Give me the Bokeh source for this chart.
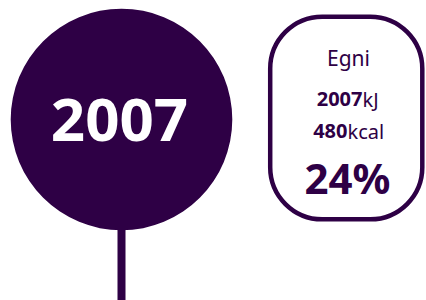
from bokeh.plotting import figure
from bokeh.models import Range1d, BoxAnnotation
from bokeh.core.properties import value
from bokeh.embed import file_html
from bokeh.resources import INLINE

# Data
year_label = ["2007"]
energy_label = ["Egni"]
kj_value = [2007]
kj_unit = ["kJ"]
kcal_value = [480]
kcal_unit = ["kcal"]
percent_value = [24]

PURPLE = "#2E0045"
FONT = "Noto Sans"
K = 0.37  # baseline compensation


def base(y, size):
    return y - K * size


p = figure(width=426, height=300, output_backend="svg", toolbar_location=None,
           x_range=Range1d(0, 426), y_range=Range1d(300, 0), min_border=0)
p.axis.visible = False
p.grid.visible = False
p.outline_line_color = None
p.background_fill_color = "white"

# stem
p.segment(x0=[121], y0=[200], x1=[121], y1=[300], line_color=PURPLE, line_width=8)
# circle
p.circle(x=[121], y=[119], radius=110.8, fill_color=PURPLE, line_color=None)

p.text(x=[119], y=[base(142, 60)], text=year_label, text_color="white", text_font=value(FONT),
       text_font_style="bold", text_font_size="60px", text_align="center",
       text_baseline="alphabetic")

# rounded box
box = BoxAnnotation(left=269.7, right=421.8, top=16.2, bottom=218.8, fill_alpha=0,
                    line_color=PURPLE, line_alpha=1, line_width=4.5, border_radius=52)
p.add_layout(box)

p.text(x=[348], y=[base(65, 21)], text=energy_label, text_color=PURPLE, text_font=value(FONT),
       text_font_size="21px", text_align="center", text_baseline="alphabetic")

p.text(x=[362], y=[base(106, 20)], text=[str(v) for v in kj_value], text_color=PURPLE,
       text_font=value(FONT), text_font_style="bold", text_font_size="20px",
       text_align="right", text_baseline="alphabetic")
p.text(x=[362], y=[base(106, 20)], text=kj_unit, text_color=PURPLE,
       text_font=value(FONT), text_font_size="20px",
       text_align="left", text_baseline="alphabetic")

p.text(x=[347], y=[base(138.3, 20)], text=[str(v) for v in kcal_value], text_color=PURPLE,
       text_font=value(FONT), text_font_style="bold", text_font_size="20px",
       text_align="right", text_baseline="alphabetic")
p.text(x=[347], y=[base(138.3, 20)], text=kcal_unit, text_color=PURPLE,
       text_font=value(FONT), text_font_size="20px",
       text_align="left", text_baseline="alphabetic")

p.text(x=[347], y=[base(193, 42)], text=[f"{v}%" for v in percent_value], text_color=PURPLE,
       text_font=value(FONT), text_font_style="bold", text_font_size="42px",
       text_align="center", text_baseline="alphabetic")

open("out.html", "w").write(file_html(p, INLINE))
